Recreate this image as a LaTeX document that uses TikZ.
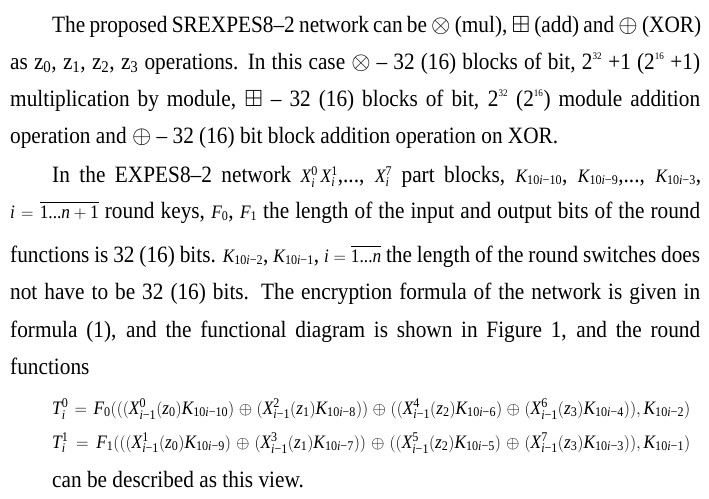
\documentclass[tikz,border=0pt]{standalone}
\usepackage{amsmath,amssymb}
\usepackage{fontspec}
\setmainfont[FakeStretch=0.91]{Liberation Serif}
\newcommand\mi[1]{\text{\itshape #1}}
\newcommand\Kk[1]{\mi{K}_{\text{#1}}}
\newcommand\Xs[2]{\mi{X}_{\text{#1}}^{\text{#2}}}
\newcommand\sm[1]{{\fontsize{19}{20}\selectfont$#1$}}
\newcommand\ii{\textit{i}}
\newcommand\tsup[1]{\textsuperscript{\fontsize{10}{10}\selectfont #1}}
\begin{document}
\begin{tikzpicture}[x=1pt,y=1pt,
  txt/.style={anchor=base west,inner sep=0pt,font=\fontsize{23.4}{26}\selectfont},
  fml/.style={anchor=base west,inner sep=0pt,font=\fontsize{19}{20}\selectfont}]
\useasboundingbox (0,0) rectangle (709,-498);
\fill[white] (0,0) rectangle (709,-498);
\node[txt] (l1) at (52,-32) {\hbox to 649pt{The proposed SREXPES8–2 network can be $\otimes$ (mul), $\boxplus$ (add) and $\oplus$ (XOR)}};
\node[txt] (l2) at (10,-69) {\hbox to 690pt{as z\textsubscript{0}, z\textsubscript{1}, z\textsubscript{2}, z\textsubscript{3} operations. In this case $\otimes$ – 32 (16) blocks of bit, 2\tsup{32} +1 (2\tsup{16} +1)}};
\node[txt] (l3) at (10,-106) {\hbox to 690pt{multiplication by module, $\boxplus$ – 32 (16) blocks of bit, 2\tsup{32} (2\tsup{16}) module addition}};
\node[txt] (l4) at (10,-143) {operation and $\oplus$ – 32 (16) bit block addition operation on XOR.};
\node[txt] (l5) at (52,-182) {\hbox to 649pt{In the EXPES8–2 network \sm{\Xs{\ii}{0}\,\Xs{\ii}{1}},..., \sm{\Xs{\ii}{7}} part blocks, \sm{\Kk{10\ii−10}}, \sm{\Kk{10\ii−9}},..., \sm{\Kk{10\ii−3}},}};
\node[txt] (l6) at (10,-218) {\hbox to 690pt{\sm{\mi{i}=\overline{\text{1...}\mi{n}+\text{1}}} round keys, \sm{\mi{F}_{\text{0}}}, \sm{\mi{F}_{\text{1}}} the length of the input and output bits of the round}};
\node[txt] (l7) at (10,-262) {\hbox to 690pt{functions is 32 (16) bits. \sm{\Kk{10\ii−2}}, \sm{\Kk{10\ii−1}}, \sm{\mi{i}=\overline{\text{1...}\mi{n}}} the length of the round switches does}};
\node[txt] (l8) at (10,-299) {\hbox to 690pt{not have to be 32 (16) bits. The encryption formula of the network is given in}};
\node[txt] (l9) at (10,-337) {\hbox to 690pt{formula (1), and the functional diagram is shown in Figure 1, and the round}};
\node[txt] (l10) at (10,-374) {functions};
\node[fml] (f1) at (52,-414) {\hbox to 638pt{$\mi{T}_{\text{\ii}}^{\text{0}}=\mi{F}_{\text{0}}(((\Xs{\ii−1}{0}(\mi{z}_{\text{0}})\Kk{10\ii−10})\oplus(\Xs{\ii−1}{2}(\mi{z}_{\text{1}})\Kk{10\ii−8}))\oplus((\Xs{\ii−1}{4}(\mi{z}_{\text{2}})\Kk{10\ii−6})\oplus(\Xs{\ii−1}{6}(\mi{z}_{\text{3}})\Kk{10\ii−4})),\Kk{10\ii−2})$}};
\node[fml] (f2) at (52,-448) {\hbox to 638pt{$\mi{T}_{\text{\ii}}^{\text{1}}=\mi{F}_{\text{1}}(((\Xs{\ii−1}{1}(\mi{z}_{\text{0}})\Kk{10\ii−9})\oplus(\Xs{\ii−1}{3}(\mi{z}_{\text{1}})\Kk{10\ii−7}))\oplus((\Xs{\ii−1}{5}(\mi{z}_{\text{2}})\Kk{10\ii−5})\oplus(\Xs{\ii−1}{7}(\mi{z}_{\text{3}})\Kk{10\ii−3})),\Kk{10\ii−1})$}};
\node[txt] (l11) at (52,-487) {can be described as this view.};
\end{tikzpicture}
\end{document}
